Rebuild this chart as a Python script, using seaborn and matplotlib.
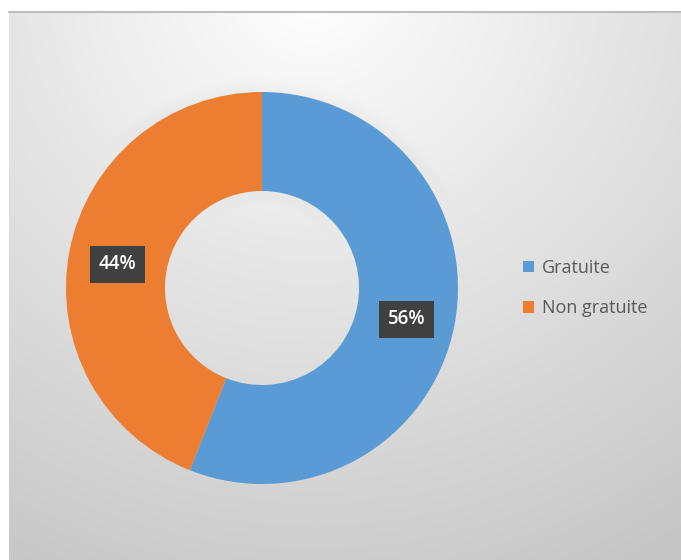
import numpy as np
import matplotlib
matplotlib.use("Agg")
import matplotlib.pyplot as plt
import seaborn as sns

categories = ["Gratuite", "Non gratuite"]
values = [56, 44]
value_labels = ["56%", "44%"]

sns.set_theme(style="white")
plt.rcParams['font.family'] = ['Open Sans', 'DejaVu Sans']
colors = sns.color_palette(["#5B9BD5", "#ED7D31"])

W, H = 681, 560
fig = plt.figure(figsize=(W / 100, H / 100), dpi=100)
fig.patch.set_facecolor("white")

# background gradient panel
bg = fig.add_axes([9 / W, 0, 1 - 9 / W, 1 - 12 / H], zorder=0)
ny, nx = 300, 400
yy, xx = np.mgrid[0:ny, 0:nx]
cx, cy = 0.45 * nx, -0.05 * ny
d = np.sqrt(((xx - cx) / nx) ** 2 + ((yy - cy) / ny * 0.85) ** 2)
v = 1.0 - 0.22 * np.clip(d / 1.0, 0, 1.2)
v = np.clip(v, 0.78, 1.0)
img = np.dstack([v, v, v])
bg.imshow(img, aspect="auto", extent=[0, 1, 0, 1], origin="upper")
bg.set_axis_off()
bg.plot([0, 1], [1, 1], color="#bdbdbd", lw=1.5, transform=bg.transAxes, clip_on=False)

# donut axes
cxp, cyp, R = 262, 288, 196
ax = fig.add_axes([(cxp - R) / W, (H - cyp - R) / H, 2 * R / W, 2 * R / H], zorder=2)
ax.set_facecolor("none")

# soft glow behind donut
for i, a in enumerate(np.linspace(0.05, 0.01, 6)):
    ax.pie([1], radius=1.0 + 0.012 * (i + 1), colors=["#e8e8e8"],
           wedgeprops=dict(width=0.5 + 0.024 * (i + 1), alpha=a, linewidth=0))

wedges, _ = ax.pie(values, colors=colors, startangle=90, counterclock=False,
                   radius=1.0, wedgeprops=dict(width=0.505, linewidth=0))

total = sum(values)
start = 90.0
for val, lab in zip(values, value_labels):
    span = val / total * 360
    mid = np.deg2rad(start - span / 2)
    r = 0.75
    ax.text(r * np.cos(mid), r * np.sin(mid) - 0.02, lab, ha="center", va="center",
            color="white", fontsize=13.5, fontweight="semibold",
            bbox=dict(boxstyle="square,pad=0.45", facecolor="#404040", edgecolor="none"))
    start -= span

ax.set_xlim(-1, 1)
ax.set_ylim(-1, 1)
ax.set_aspect("equal")
ax.set_axis_off()

leg = fig.legend(wedges, categories, loc="center left", bbox_to_anchor=(507 / W, 1 - 288 / H),
                 frameon=False, fontsize=13, handlelength=0.6, handleheight=0.6,
                 handletextpad=0.45, labelspacing=1.25, labelcolor="#595959")

fig.savefig("out.png", dpi=100, facecolor=fig.get_facecolor())
